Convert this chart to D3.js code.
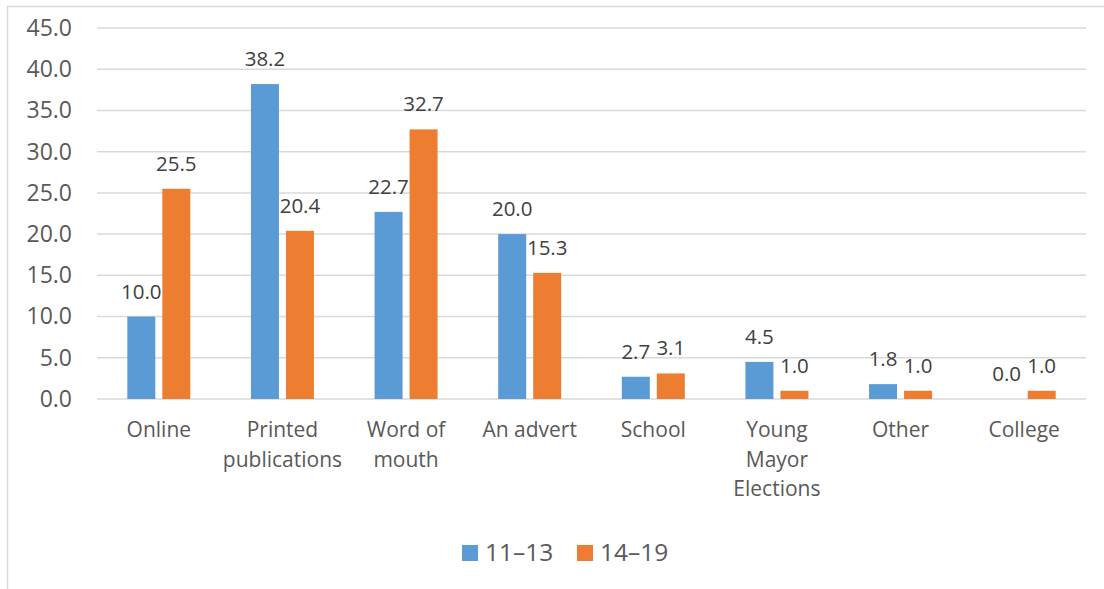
<!DOCTYPE html>
<html>
<head>
<meta charset="utf-8">
<script src="https://cdn.jsdelivr.net/npm/d3@7/dist/d3.min.js"></script>
<style>
  html, body { margin: 0; padding: 0; background: #fff; }
  svg { display: block; font-family: "Open Sans", "Noto Sans", sans-serif; }
</style>
</head>
<body>
<svg id="chart" width="1104" height="589"></svg>
<script>
// Where young people heard about it, by age group (%)
const categories = ["Online", "Printed\npublications", "Word of\nmouth", "An advert", "School", "Young\nMayor\nElections", "Other", "College"];
const seriesNames = ["11\u201313", "14\u201319"];
const values1113 = [10.0, 38.2, 22.7, 20.0, 2.7, 4.5, 1.8, 0.0];
const values1419 = [25.5, 20.4, 32.7, 15.3, 3.1, 1.0, 1.0, 1.0];
const yTicks = [0, 5, 10, 15, 20, 25, 30, 35, 40, 45];
const colors = ["#5b9bd5", "#ed7d31"];

const series = [values1113, values1419];
const svg = d3.select("#chart");

// chart frame
svg.append("rect")
  .attr("x", 7.5).attr("y", 6.5)
  .attr("width", 1110).attr("height", 600)
  .attr("fill", "none").attr("stroke", "#d9d9d9").attr("stroke-width", 1.5);

const plot = { left: 97, right: 1086, top: 28, bottom: 399 };

const x = d3.scaleBand().domain(d3.range(categories.length)).range([plot.left, plot.right]);
const y = d3.scaleLinear().domain([0, 45]).range([plot.bottom, plot.top]);

// gridlines
svg.append("g").selectAll("line").data(yTicks).join("line")
  .attr("x1", plot.left).attr("x2", plot.right)
  .attr("y1", d => y(d)).attr("y2", d => y(d))
  .attr("stroke", "#d9d9d9").attr("stroke-width", 1.5);

// y-axis labels
const yAxis = d3.axisLeft(y).tickValues(yTicks).tickFormat(d3.format(".1f")).tickSize(0).tickPadding(0);
svg.append("g").attr("transform", "translate(72,0)").call(yAxis)
  .call(g => g.select(".domain").remove())
  .call(g => g.selectAll("text")
    .attr("font-family", "Open Sans, sans-serif")
    .attr("font-size", 23).attr("fill", "#595959"));

// bars
const barW = 28, inner = 7;
const barX = (i, s) => x(i) + x.bandwidth() / 2 + (s === 0 ? -(barW + inner / 2) : inner / 2);

series.forEach((vals, s) => {
  const g = svg.append("g");
  g.selectAll("rect").data(vals).join("rect")
    .attr("x", (d, i) => barX(i, s))
    .attr("y", d => y(d))
    .attr("width", barW)
    .attr("height", d => y(0) - y(d))
    .attr("fill", colors[s]);
  g.selectAll("text").data(vals).join("text")
    .attr("x", (d, i) => barX(i, s) + barW / 2)
    .attr("y", d => y(d) - 18)
    .attr("text-anchor", "middle")
    .attr("font-size", 20.5).attr("fill", "#404040")
    .text(d => d3.format(".1f")(d));
});

// category labels
const cat = svg.append("g");
categories.forEach((c, i) => {
  const t = cat.append("text")
    .attr("x", x(i) + x.bandwidth() / 2)
    .attr("y", 437)
    .attr("text-anchor", "middle")
    .attr("font-size", 21).attr("fill", "#595959");
  c.split("\n").forEach((line, k) => {
    t.append("tspan").attr("x", x(i) + x.bandwidth() / 2).attr("y", 437 + k * 29.5).text(line);
  });
});

// legend
const legend = svg.append("g");
const legendItems = [{ x: 462, name: seriesNames[0], c: colors[0] }, { x: 577, name: seriesNames[1], c: colors[1] }];
legendItems.forEach(it => {
  legend.append("rect").attr("x", it.x).attr("y", 545).attr("width", 16).attr("height", 16).attr("fill", it.c);
  legend.append("text").attr("x", it.x + 23).attr("y", 561)
    .attr("font-size", 24.5).attr("fill", "#595959").text(it.name);
});
</script>
</body>
</html>
